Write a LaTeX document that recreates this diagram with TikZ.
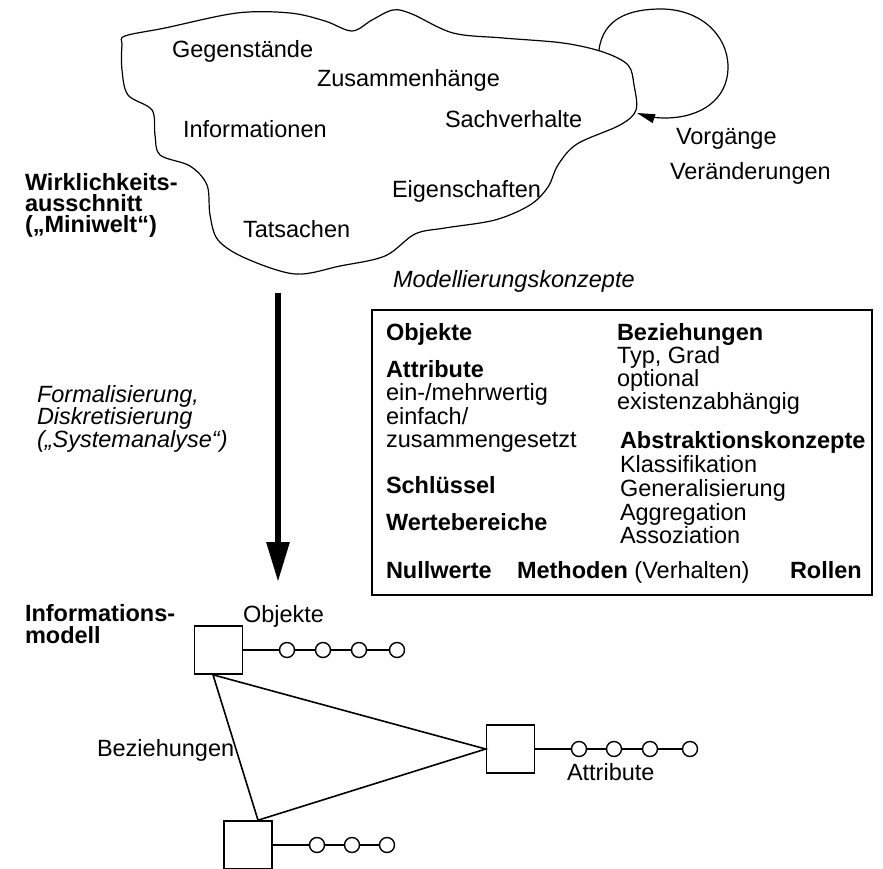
\documentclass[tikz,border=0pt]{standalone}
\usepackage{fontspec}
\setmainfont{Liberation Sans}
\usetikzlibrary{arrows.meta,calc}
\begin{document}
\begin{tikzpicture}[x=1pt,y=-1pt,
  lbl/.style={anchor=base west, inner sep=0pt, outer sep=0pt, font=\fontsize{23.5}{23.5}\selectfont},
  bld/.style={lbl, font=\fontsize{23.5}{23.5}\selectfont\bfseries},
  itl/.style={lbl, font=\fontsize{23.5}{23.5}\selectfont\itshape},
  outline/.style={line width=1.2pt, line join=round},
  sq/.style={draw, line width=1.6pt, minimum width=48pt, minimum height=48pt, inner sep=0pt},
  att/.style={draw, circle, line width=1.4pt, minimum size=15pt, inner sep=0pt, fill=white},
  link/.style={line width=1.6pt}]
\useasboundingbox (0,0) rectangle (883,869);

% the "mini world" blob
\draw[outline] plot[smooth cycle, tension=0.55] coordinates {
  (125,36) (165,28) (237,13) (290,13) (325,21) (352,31) (372,20) (393,10)
  (412,14) (453,33) (503,38) (563,43) (603,52) (628,65) (634,85) (636,110)
  (620,125) (577,144) (558,165) (548,187) (530,205) (495,220) (445,228)
  (415,234) (385,256) (340,266) (295,274) (245,258) (218,240) (210,215)
  (207,185) (190,166) (160,155) (155,135) (152,110) (128,95) (122,70) (122,45)};

\node[lbl] (gg) at (172,58) {Gegenstände};
\node[lbl] (zh) at (317,87) {Zusammenhänge};
\node[lbl] (inf) at (183,138) {Informationen};
\node[lbl] (sv) at (445,128) {Sachverhalte};
\node[lbl] (eg) at (392,198) {Eigenschaften};
\node[lbl] (ts) at (243,237) {Tatsachen};

% self loop for processes / changes
\coordinate (ls) at (599,50);
\coordinate (le) at (637,113);
\draw[outline, -{Triangle[width=9pt,length=18pt]}] (ls)
  .. controls (603,18) and (630,9) .. (661,9)
  .. controls (700,9) and (728,35) .. (728,67)
  .. controls (728,100) and (700,118) .. (665,118)
  .. controls (655,118) and (646,116) .. (le);
\node[lbl] (vg) at (676,145) {Vorgänge};
\node[lbl] (vd) at (670,180) {Veränderungen};

\node[bld] (w1) at (25,190) {Wirklichkeits-};
\node[bld] (w2) at (25,211.5) {ausschnitt};
\node[bld] (w3) at (25,233) {(„Miniwelt“)};

% formalisation arrow
\coordinate (mt) at (278,293);
\coordinate (mb) at (278,582);
\draw[line width=6pt, -{Triangle[width=22pt,length=40pt]}] (mt) -- (mb);
\node[itl] (f1) at (37,402) {Formalisierung,};
\node[itl] (f2) at (37,424.5) {Diskretisierung};
\node[itl] (f3) at (37,447) {(„Systemanalyse“)};

% modelling concepts
\node[itl] (mk) at (393,287) {Modellierungskonzepte};
\node[draw, line width=1.4pt, minimum width=500pt, minimum height=285pt, inner sep=0pt] (box) at (622,452.5) {};
\node[bld] (b1) at (386,340) {Objekte};
\node[bld] (b2) at (386,377) {Attribute};
\node[lbl] (b3) at (386,400.5) {ein-/mehrwertig};
\node[lbl] (b4) at (386,424) {einfach/};
\node[lbl] (b5) at (386,447.5) {zusammengesetzt};
\node[bld] (b6) at (386,493) {Schlüssel};
\node[bld] (b7) at (386,530) {Wertebereiche};
\node[bld] (b8) at (386,578) {Nullwerte};
\node[lbl] (b9) at (517,578) {\textbf{Methoden} (Verhalten)};
\node[bld] (b10) at (790,578) {Rollen};
\node[bld] (r1) at (617,340) {Beziehungen};
\node[lbl] (r2) at (617,363) {Typ, Grad};
\node[lbl] (r3) at (617,386) {optional};
\node[lbl] (r4) at (617,409) {existenzabhängig};
\node[bld] (a1) at (620,448) {Abstraktionskonzepte};
\node[lbl] (a2) at (620,472) {Klassifikation};
\node[lbl] (a3) at (620,496) {Generalisierung};
\node[lbl] (a4) at (620,520) {Aggregation};
\node[lbl] (a5) at (620,543) {Assoziation};

% information model
\node[bld] (im1) at (25,621) {Informations-};
\node[bld] (im2) at (25,643) {modell};
\node[lbl] (lo) at (243,622) {Objekte};
\node[lbl] (lb) at (97,756) {Beziehungen};
\node[lbl] (la) at (567,780) {Attribute};

\node[sq] (s1) at (218.5,650) {};
\node[sq] (s2) at (510.5,749) {};
\node[sq] (s3) at (248,845) {};

\draw[link] ([xshift=-5.5pt]s1.south) -- (s2.west) -- ([xshift=10pt]s3.north) -- cycle;

\node[att] (c11) at (287,650) {};
\node[att] (c12) at (323,650) {};
\node[att] (c13) at (359,650) {};
\node[att] (c14) at (397,650) {};
\draw[link] (s1) -- (c11) -- (c12) -- (c13) -- (c14);

\node[att] (c21) at (579,749) {};
\node[att] (c22) at (614,749) {};
\node[att] (c23) at (650,749) {};
\node[att] (c24) at (690,749) {};
\draw[link] (s2) -- (c21) -- (c22) -- (c23) -- (c24);

\node[att] (c31) at (317,845) {};
\node[att] (c32) at (352,845) {};
\node[att] (c33) at (387,845) {};
\draw[link] (s3) -- (c31) -- (c32) -- (c33);
\end{tikzpicture}
\end{document}
